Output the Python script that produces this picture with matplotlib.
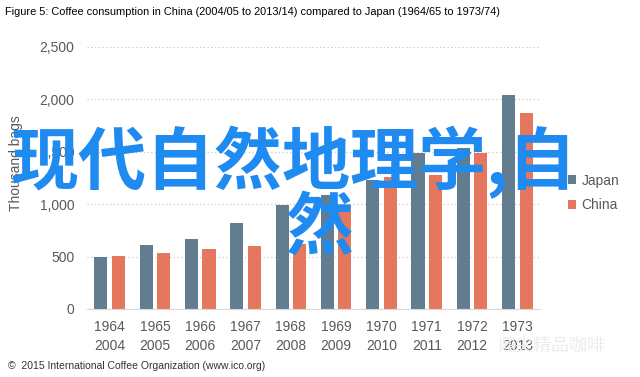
import matplotlib.pyplot as plt
import numpy as np

# data (thousand bags)
japan_years = ["1964", "1965", "1966", "1967", "1968", "1969", "1970", "1971", "1972", "1973"]
china_years = ["2004", "2005", "2006", "2007", "2008", "2009", "2010", "2011", "2012", "2013"]
japan = [493, 611, 671, 818, 995, 1090, 1230, 1490, 1540, 2042]
china = [506, 537, 570, 601, 620, 990, 1260, 1280, 1489, 1873]
yticks = [0, 500, 1000, 1500, 2000, 2500]

plt.rcParams['font.family'] = ['Liberation Sans', 'DejaVu Sans']

fig = plt.figure(figsize=(6.4, 3.77), dpi=100)
ax = fig.add_axes([87/640, 68/377, 453/640, 262/377])

x = np.arange(len(japan))
w = 0.29
ax.bar(x - 0.193, japan, w, color="#627d8f", label="Japan", zorder=2)
ax.bar(x + 0.193, china, w, color="#e6775f", label="China", zorder=2)

ax.set_xlim(-0.5, 9.5)
ax.set_ylim(0, 2500)
ax.set_yticks(yticks)
ax.set_yticklabels([f"{v:,}" for v in yticks])
ax.set_xticks(x)
ax.set_xticklabels([a + "\n" + b for a, b in zip(japan_years, china_years)], linespacing=1.45)
ax.tick_params(axis="both", length=0, labelsize=10, labelcolor="#595959")
ax.tick_params(axis="y", pad=9)
ax.tick_params(axis="x", pad=8)
ax.yaxis.grid(True, linestyle=(0, (1, 2)), color="#c9c9c9", linewidth=0.9, zorder=0)
for s in ["top", "right", "left"]:
    ax.spines[s].set_visible(False)
ax.spines["bottom"].set_color("#d9d9d9")
ax.set_ylabel("Thousand bags", color="#595959", fontsize=10)
ax.yaxis.set_label_coords(-0.141, 0.557)

ax.legend(loc="center left", bbox_to_anchor=(555/640, 1 - 193/377), bbox_transform=fig.transFigure,
          frameon=False, handlelength=0.6, handleheight=0.6, handletextpad=0.4,
          labelspacing=0.75, fontsize=10, labelcolor="#595959")

fig.text(5/640, 1 - 12/377,
         "Figure 5: Coffee consumption in China (2004/05 to 2013/14) compared to Japan (1964/65 to 1973/74)",
         fontsize=7.9, va="center", ha="left")
fig.text(8/640, 1 - 366/377, "©  2015 International Coffee Organization (www.ico.org)",
         fontsize=7.5, color="#333333", va="center", ha="left")
fig.text(497/640, 1 - 346/377, "鼎尖精品咖啡", fontsize=13, color="#ececec",
         family=["Noto Sans CJK SC"], va="center", ha="left", zorder=5)

# big blue watermark text
fig.text(10/640, 1 - 163/377, "现代自然地理学,自", fontsize=49, color="#1f8bf0",
         family=["Noto Sans CJK SC", "DejaVu Sans"], weight="bold", va="center", ha="left", zorder=10)
fig.text(320/640, 1 - 229/377, "然", fontsize=49, color="#1f8bf0",
         family=["Noto Sans CJK SC"], weight="bold", va="center", ha="center", zorder=10)

fig.savefig("out.png", dpi=100)
